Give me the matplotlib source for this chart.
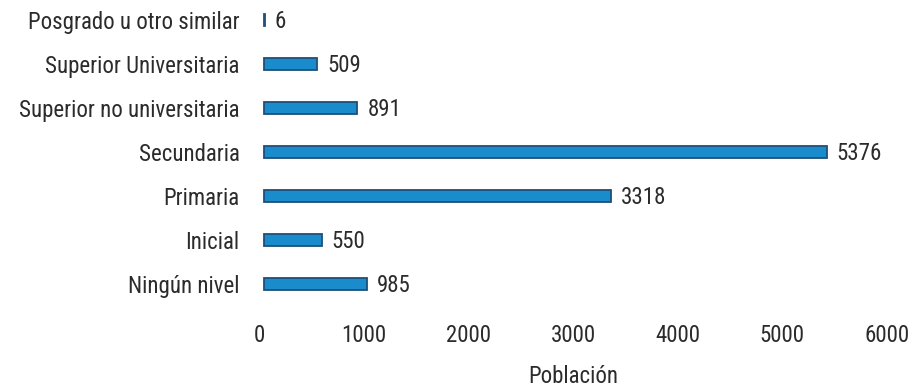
import matplotlib
matplotlib.use("Agg")
import matplotlib.pyplot as plt
import matplotlib.transforms as mtransforms
import warnings

warnings.filterwarnings("ignore")

categories = ["Ningún nivel", "Inicial", "Primaria", "Secundaria",
              "Superior no universitaria", "Superior Universitaria",
              "Posgrado u otro similar"]
values = [985, 550, 3318, 5376, 891, 509, 6]
xticks = [0, 1000, 2000, 3000, 4000, 5000, 6000]

plt.rcParams['font.family'] = ['Liberation Sans Narrow', 'Arial Narrow',
                               'Roboto Condensed', 'Archivo Narrow',
                               'PT Sans Narrow', 'Liberation Sans',
                               'DejaVu Sans']
text_color = "#2b2b2b"
fs = 16.5

fig = plt.figure(figsize=(9.11, 3.90), dpi=100)
W, H = 911, 390
x0, x1 = 259, 887
y_top, y_bot = 9, 306
ax = fig.add_axes([x0 / W, 1 - y_bot / H, (x1 - x0) / W, (y_bot - y_top) / H])

ypos = list(range(len(categories)))
bars = ax.barh(ypos, values, height=0.27, left=0, color="#1a8ccb",
               edgecolor="#1f4f7a", linewidth=1.3, zorder=3)
# shift the bar faces slightly right for a depth effect
shift = mtransforms.ScaledTranslation(5 / 100, 0, fig.dpi_scale_trans)
for b in bars:
    b.set_transform(ax.transData + shift)
    b.set_clip_on(False)

for y, v in zip(ypos, values):
    ax.annotate(str(v), xy=(v, y), xytext=(15, -1), textcoords="offset pixels",
                va="center", ha="left", fontsize=fs, color=text_color)

ax.set_xlim(0, 6000)
ax.set_ylim(-0.5, 6.25)
ax.set_xticks(xticks)
ax.set_xticklabels([str(t) for t in xticks], fontsize=fs, color=text_color)
ax.set_yticks(ypos)
ax.set_yticklabels(categories, fontsize=fs, color=text_color)
ax.tick_params(axis="both", length=0)
ax.tick_params(axis="x", pad=13)
ax.tick_params(axis="y", pad=14)
ax.set_xlabel("Población", fontsize=fs, color=text_color, labelpad=13)
for s in ax.spines.values():
    s.set_visible(False)

fig.savefig("out.png", dpi=100)
